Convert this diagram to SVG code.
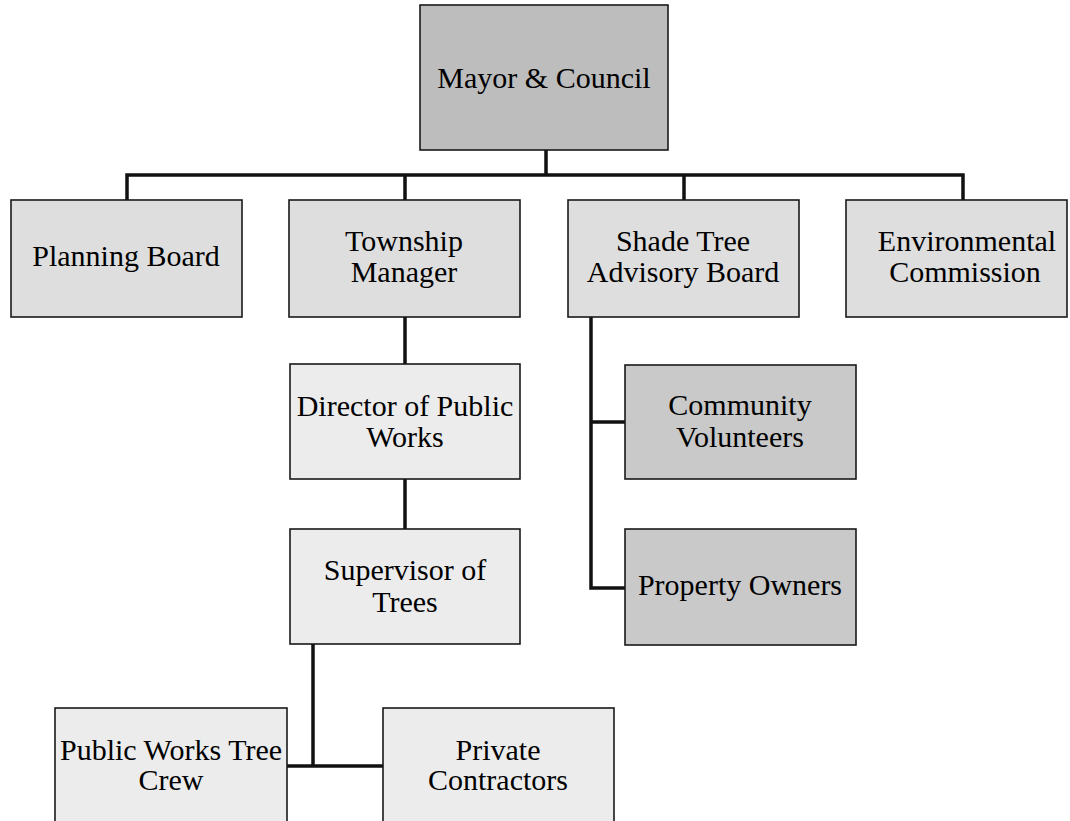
<svg xmlns="http://www.w3.org/2000/svg" width="1070" height="821" viewBox="0 0 1070 821">
<style>
.box{stroke:#1a1a1a;stroke-width:1.6}
.dark{fill:#bdbdbd}
.mid{fill:#c9c9c9}
.light{fill:#dedede}
.pale{fill:#ececec}
.lbl{font-family:"Liberation Serif","Times New Roman",serif;font-size:30px;fill:#000;text-anchor:middle}
.con{stroke:#111;stroke-width:3.5;fill:none;stroke-linecap:square}
</style>
<rect width="1070" height="821" fill="#ffffff"/>
<g id="connectors">
<path class="con" d="M546 150 V175 M127 175 H963 M127 175 V200 M405 175 V200 M684 175 V200 M963 175 V200"/>
<path class="con" d="M405 318 V364 M405 479 V529"/>
<path class="con" d="M313 644 V766 M287 766 H383"/>
<path class="con" d="M591 316 V588 M591 422 H625 M591 588 H625"/>
</g>
<g id="mayor">
<rect class="box dark" x="420" y="5" width="248" height="145"/>
<text class="lbl" x="544" y="88">Mayor &amp; Council</text>
</g>
<g id="planning">
<rect class="box light" x="11" y="200" width="231" height="117"/>
<text class="lbl" x="126" y="266">Planning Board</text>
</g>
<g id="township">
<rect class="box light" x="289" y="200" width="231" height="117"/>
<text class="lbl" x="404" y="251">Township</text>
<text class="lbl" x="404" y="282">Manager</text>
</g>
<g id="shadetree">
<rect class="box light" x="568" y="200" width="231" height="117"/>
<text class="lbl" x="683" y="251">Shade Tree</text>
<text class="lbl" x="683" y="282">Advisory Board</text>
</g>
<g id="environmental">
<rect class="box light" x="846" y="200" width="221" height="117"/>
<text class="lbl" x="967" y="251">Environmental</text>
<text class="lbl" x="965" y="282">Commission</text>
</g>
<g id="director">
<rect class="box pale" x="290" y="364" width="230" height="115"/>
<text class="lbl" x="405" y="416">Director of Public</text>
<text class="lbl" x="405" y="447">Works</text>
</g>
<g id="supervisor">
<rect class="box pale" x="290" y="529" width="230" height="115"/>
<text class="lbl" x="405" y="580">Supervisor of</text>
<text class="lbl" x="405" y="612">Trees</text>
</g>
<g id="community">
<rect class="box mid" x="625" y="365" width="231" height="114"/>
<text class="lbl" x="740" y="415">Community</text>
<text class="lbl" x="740" y="447">Volunteers</text>
</g>
<g id="property">
<rect class="box mid" x="625" y="529" width="231" height="116"/>
<text class="lbl" x="740" y="595">Property Owners</text>
</g>
<g id="publicworks">
<rect class="box pale" x="55" y="708" width="232" height="116"/>
<text class="lbl" x="171" y="760">Public Works Tree</text>
<text class="lbl" x="171" y="790">Crew</text>
</g>
<g id="private">
<rect class="box pale" x="383" y="708" width="231" height="116"/>
<text class="lbl" x="498" y="760">Private</text>
<text class="lbl" x="498" y="790">Contractors</text>
</g>
</svg>
